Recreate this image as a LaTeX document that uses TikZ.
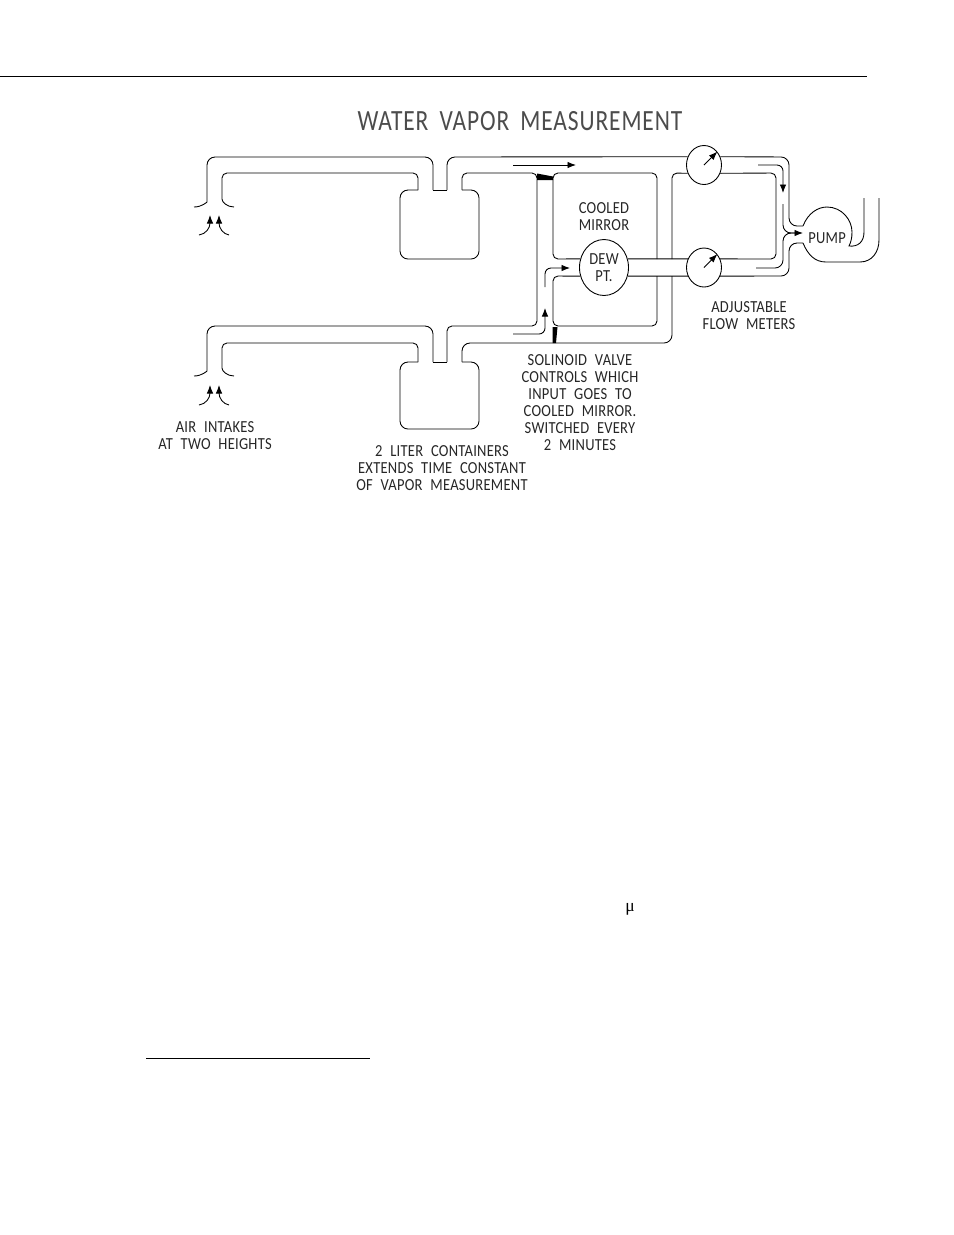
\documentclass[tikz,border=0pt]{standalone}
\usepackage{fontspec}
\usetikzlibrary{arrows.meta,shapes.geometric}
\newfontfamily\cadfont[FakeStretch=.86,LetterSpace=1.6,WordSpace=2.2]{Carlito}
\newfontfamily\titlefont[FakeStretch=.8,LetterSpace=3,WordSpace=1.8]{Carlito}
\newfontfamily\bodyfont{Liberation Serif}
\tikzset{
	pipe/.style={line width=.5pt, rounded corners=.16cm},
	innerpipe/.style={line width=.5pt, rounded corners=.1cm},
	flow/.style={line width=.5pt, -{Latex[length=.17cm,width=.13cm]}},
	meter/.style={draw, ellipse, line width=.5pt, minimum width=.7cm, minimum height=.78cm, inner sep=0cm},
	label/.style={font=\cadfont\fontsize{9.6}{9.64}\selectfont, align=center, inner sep=0cm, text=black!85}
}
\begin{document}
\begin{tikzpicture}[x=.02cm, y=-.02cm]
\useasboundingbox (0,0) rectangle (954,1235);
\node[label, text=black!70] (title) at (520,121) {\titlefont\fontsize{16.7}{17}\selectfont WATER VAPOR MEASUREMENT};
\node[meter] (meterT) at (704,165) {};
\node[meter] (meterB) at (704,267.5) {};
\node[meter, minimum width=.98cm, minimum height=1.12cm, label] (dew) at (604,267.5) {DEW\\PT.};
\node[label] (mirror) at (604,216.5) {COOLED\\MIRROR};
\node[label] (pump) at (827,238) {PUMP};
\node[label] (meters) at (749,315.5) {ADJUSTABLE\\FLOW METERS};
\node[label] (valve) at (580,402.5) {SOLINOID VALVE\\CONTROLS WHICH\\INPUT GOES TO\\COOLED MIRROR.\\SWITCHED EVERY\\2 MINUTES};
\node[label] (intakes) at (215,435.5) {AIR INTAKES\\AT TWO HEIGHTS};
\node[label] (liters) at (442,468) {2 LITER CONTAINERS\\EXTENDS TIME CONSTANT\\OF VAPOR MEASUREMENT};
\node[inner sep=0cm, font=\bodyfont\fontsize{10}{12}\selectfont] (micro) at (630,909) {μ};
\coordinate (ruleTa) at (0,76);
\coordinate (ruleTb) at (867,76);
\coordinate (ruleBa) at (146,1058);
\coordinate (ruleBb) at (370,1058);
\draw[line width=.5pt] (ruleTa) -- (ruleTb);
\draw[line width=.5pt] (ruleBa) -- (ruleBb);
% upper intake and container
\draw[pipe] (194,207) .. controls (202,207) and (207,202) .. (207,194) -- (207,157) -- (433,157) -- (433,190);
\draw[line width=.5pt] (433,190) -- (447,190);
\draw[pipe] (447,190) -- (447,157) -- (meterT.153);
\draw[innerpipe] (234,207) .. controls (227,207) and (222,202) .. (222,194) -- (222,173) -- (418,173) -- (418,190);
\draw[pipe] (418,190) -- (400,190) -- (400,259) -- (479,259) -- (479,190) -- (462,190);
% lower intake and container
\draw[pipe] (194,376) .. controls (202,376) and (207,371) .. (207,363) -- (207,326) -- (433,326) -- (433,362);
\draw[line width=.5pt] (433,362) -- (447,362);
\draw[innerpipe] (447,362) -- (447,326) -- (537,326) -- (537,173) -- (462,173) -- (462,190);
\draw[innerpipe] (234,376) .. controls (227,376) and (222,371) .. (222,363) -- (222,343) -- (418,343) -- (418,362);
\draw[pipe] (418,362) -- (400,362) -- (400,429) -- (479,429) -- (479,362) -- (462,362);
\draw[pipe] (462,362) -- (462,343) -- (672,343) -- (672,276);
\draw[innerpipe] (672,259) -- (672,173) -- (meterT.207);
% cooled mirror loop
\draw[innerpipe] (dew.160) -- (553,259) -- (553,173) -- (657,173) -- (657,259);
\draw[innerpipe] (657,276) -- (657,326) -- (553,326) -- (553,276) -- (dew.200);
\fill (537,173.5) -- (553,176.5) -- (553,180) -- (537,180) -- cycle;
\fill (552.5,327) -- (557.5,327) -- (556,343) -- (552.5,343) -- cycle;
\draw[line width=.5pt] (dew.20) -- (meterB.152);
\draw[line width=.5pt] (dew.-20) -- (meterB.-152);
% meters to pump
\draw[pipe] (meterT.27) -- (789,157) -- (789,226) -- (803,226);
\draw[innerpipe] (meterT.-27) -- (776,173) -- (776,259) -- (meterB.28);
\draw[pipe] (meterB.-28) -- (789,276) -- (789,243) -- (803,243);
\draw[flow] (meterT.center) -- (meterT.45);
\draw[flow] (meterB.center) -- (meterB.45);
% pump
\draw[line width=.5pt] (803,226) .. controls (808,213) and (818,207) .. (827,207) .. controls (842,207) and (852,220) .. (852,232) .. controls (852,238) and (851,242) .. (849,246) .. controls (858,247) and (864,242) .. (864,232) -- (864,198);
\draw[line width=.5pt] (803,243) .. controls (808,255) and (815,262) .. (826,262) -- (860,262) .. controls (872,262) and (879,252) .. (879,240) -- (879,198);
% flow arrows
\draw[flow] (199,235) .. controls (206,234) and (210,228) .. (210,215);
\draw[flow] (229,235) .. controls (223,234) and (219,228) .. (219,215);
\draw[flow] (199,405) .. controls (206,404) and (210,398) .. (210,385);
\draw[flow] (229,405) .. controls (223,404) and (219,398) .. (219,385);
\draw[flow] (513,165) -- (576,165);
\draw[flow, rounded corners=.12cm] (545,287) -- (545,268) -- (570,268);
\draw[flow, rounded corners=.12cm] (513,334) -- (545,334) -- (545,308);
\draw[flow, rounded corners=.12cm] (758,165) -- (783,165) -- (783,193);
\draw[flow, rounded corners=.16cm] (783,204) -- (783,233) -- (803,233);
\draw[line width=.5pt, rounded corners=.16cm] (756,268) -- (783,268) -- (783,233) -- (797,233);
\end{tikzpicture}
\end{document}
